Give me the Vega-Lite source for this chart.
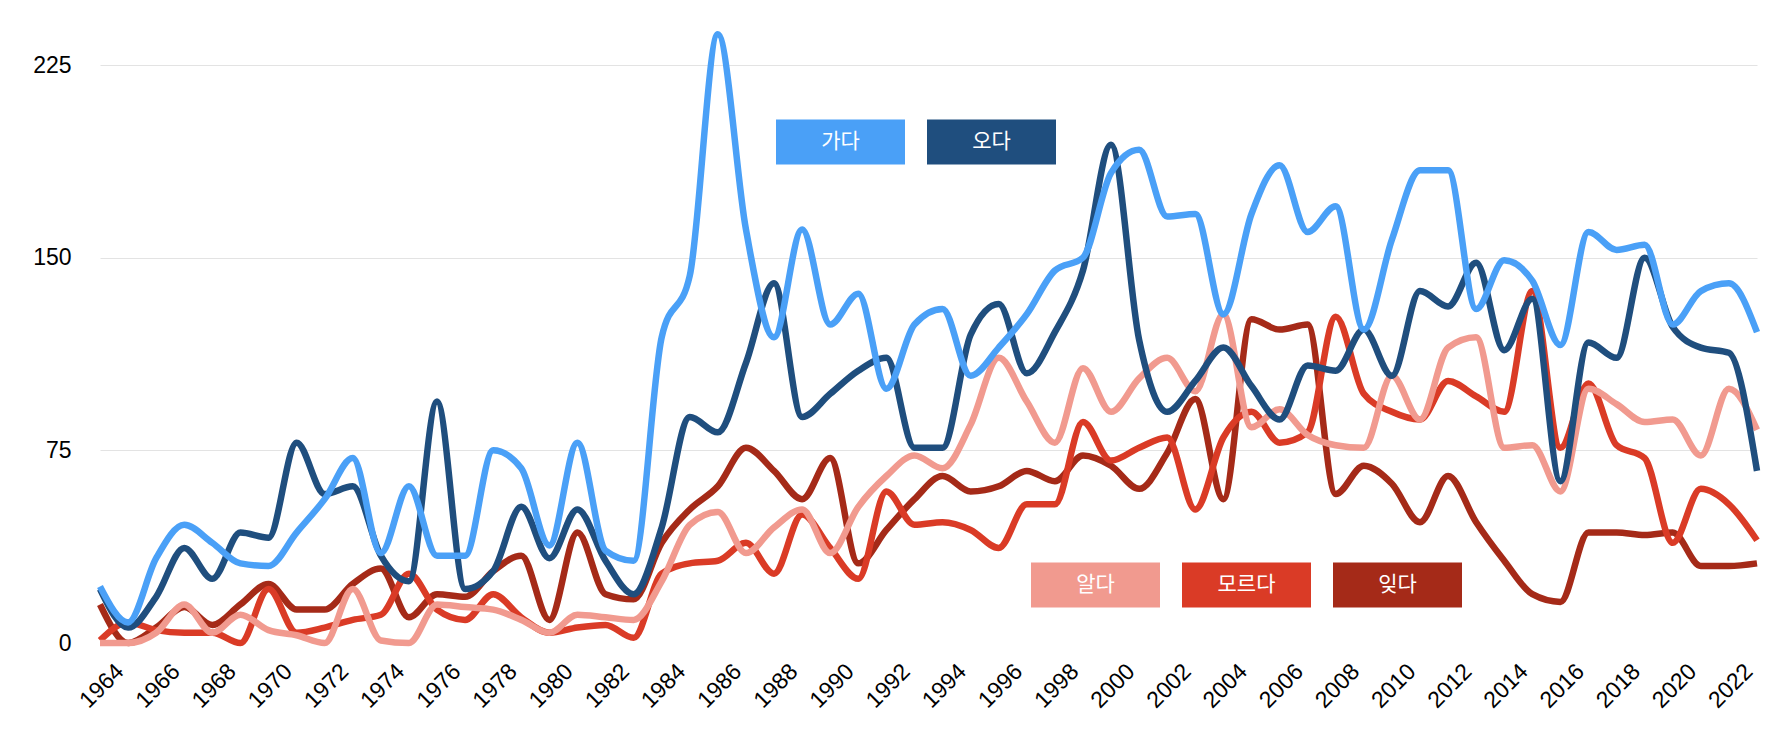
{
  "$schema": "https://vega.github.io/schema/vega-lite/v6.json",
  "width": 1657,
  "height": 578,
  "autosize": {"type": "none"},
  "padding": {"left": 100, "top": 65, "right": 17, "bottom": 91},
  "background": "white",
  "config": {"view": {"stroke": null}, "font": "Liberation Sans"},
  "data": {"values": [
    {"year":1963,"verb":"잊다","count":15},{"year":1964,"verb":"잊다","count":0},{"year":1965,"verb":"잊다","count":6},{"year":1966,"verb":"잊다","count":14},{"year":1967,"verb":"잊다","count":7},{"year":1968,"verb":"잊다","count":15},{"year":1969,"verb":"잊다","count":23},{"year":1970,"verb":"잊다","count":13},{"year":1971,"verb":"잊다","count":13},{"year":1972,"verb":"잊다","count":23},
    {"year":1973,"verb":"잊다","count":29},{"year":1974,"verb":"잊다","count":10},{"year":1975,"verb":"잊다","count":19},{"year":1976,"verb":"잊다","count":18},{"year":1977,"verb":"잊다","count":28},{"year":1978,"verb":"잊다","count":34},{"year":1979,"verb":"잊다","count":9},{"year":1980,"verb":"잊다","count":43},{"year":1981,"verb":"잊다","count":19},{"year":1982,"verb":"잊다","count":17},
    {"year":1983,"verb":"잊다","count":39},{"year":1984,"verb":"잊다","count":52},{"year":1985,"verb":"잊다","count":61},{"year":1986,"verb":"잊다","count":76},{"year":1987,"verb":"잊다","count":67},{"year":1988,"verb":"잊다","count":56},{"year":1989,"verb":"잊다","count":72},{"year":1990,"verb":"잊다","count":31},{"year":1991,"verb":"잊다","count":44},{"year":1992,"verb":"잊다","count":56},
    {"year":1993,"verb":"잊다","count":65},{"year":1994,"verb":"잊다","count":59},{"year":1995,"verb":"잊다","count":61},{"year":1996,"verb":"잊다","count":67},{"year":1997,"verb":"잊다","count":63},{"year":1998,"verb":"잊다","count":73},{"year":1999,"verb":"잊다","count":69},{"year":2000,"verb":"잊다","count":60},{"year":2001,"verb":"잊다","count":74},{"year":2002,"verb":"잊다","count":95},
    {"year":2003,"verb":"잊다","count":56},{"year":2004,"verb":"잊다","count":126},{"year":2005,"verb":"잊다","count":122},{"year":2006,"verb":"잊다","count":124},{"year":2007,"verb":"잊다","count":58},{"year":2008,"verb":"잊다","count":69},{"year":2009,"verb":"잊다","count":62},{"year":2010,"verb":"잊다","count":47},{"year":2011,"verb":"잊다","count":65},{"year":2012,"verb":"잊다","count":47},
    {"year":2013,"verb":"잊다","count":32},{"year":2014,"verb":"잊다","count":19},{"year":2015,"verb":"잊다","count":16},{"year":2016,"verb":"잊다","count":43},{"year":2017,"verb":"잊다","count":43},{"year":2018,"verb":"잊다","count":42},{"year":2019,"verb":"잊다","count":43},{"year":2020,"verb":"잊다","count":30},{"year":2021,"verb":"잊다","count":30},{"year":2022,"verb":"잊다","count":31},

    {"year":1963,"verb":"모르다","count":1},{"year":1964,"verb":"모르다","count":8},{"year":1965,"verb":"모르다","count":5},{"year":1966,"verb":"모르다","count":4},{"year":1967,"verb":"모르다","count":4},{"year":1968,"verb":"모르다","count":0},{"year":1969,"verb":"모르다","count":21},{"year":1970,"verb":"모르다","count":4},{"year":1971,"verb":"모르다","count":6},{"year":1972,"verb":"모르다","count":9},
    {"year":1973,"verb":"모르다","count":11},{"year":1974,"verb":"모르다","count":27},{"year":1975,"verb":"모르다","count":13},{"year":1976,"verb":"모르다","count":9},{"year":1977,"verb":"모르다","count":19},{"year":1978,"verb":"모르다","count":10},{"year":1979,"verb":"모르다","count":4},{"year":1980,"verb":"모르다","count":6},{"year":1981,"verb":"모르다","count":7},{"year":1982,"verb":"모르다","count":2},
    {"year":1983,"verb":"모르다","count":27},{"year":1984,"verb":"모르다","count":31},{"year":1985,"verb":"모르다","count":32},{"year":1986,"verb":"모르다","count":39},{"year":1987,"verb":"모르다","count":27},{"year":1988,"verb":"모르다","count":50},{"year":1989,"verb":"모르다","count":37},{"year":1990,"verb":"모르다","count":25},{"year":1991,"verb":"모르다","count":59},{"year":1992,"verb":"모르다","count":46},
    {"year":1993,"verb":"모르다","count":47},{"year":1994,"verb":"모르다","count":44},{"year":1995,"verb":"모르다","count":37},{"year":1996,"verb":"모르다","count":54},{"year":1997,"verb":"모르다","count":54},{"year":1998,"verb":"모르다","count":86},{"year":1999,"verb":"모르다","count":71},{"year":2000,"verb":"모르다","count":76},{"year":2001,"verb":"모르다","count":80},{"year":2002,"verb":"모르다","count":52},
    {"year":2003,"verb":"모르다","count":80},{"year":2004,"verb":"모르다","count":90},{"year":2005,"verb":"모르다","count":78},{"year":2006,"verb":"모르다","count":82},{"year":2007,"verb":"모르다","count":127},{"year":2008,"verb":"모르다","count":97},{"year":2009,"verb":"모르다","count":90},{"year":2010,"verb":"모르다","count":87},{"year":2011,"verb":"모르다","count":102},{"year":2012,"verb":"모르다","count":96},
    {"year":2013,"verb":"모르다","count":90},{"year":2014,"verb":"모르다","count":137},{"year":2015,"verb":"모르다","count":76},{"year":2016,"verb":"모르다","count":101},{"year":2017,"verb":"모르다","count":77},{"year":2018,"verb":"모르다","count":72},{"year":2019,"verb":"모르다","count":39},{"year":2020,"verb":"모르다","count":60},{"year":2021,"verb":"모르다","count":54},{"year":2022,"verb":"모르다","count":40},

    {"year":1963,"verb":"알다","count":0},{"year":1964,"verb":"알다","count":0},{"year":1965,"verb":"알다","count":4},{"year":1966,"verb":"알다","count":15},{"year":1967,"verb":"알다","count":4},{"year":1968,"verb":"알다","count":11},{"year":1969,"verb":"알다","count":5},{"year":1970,"verb":"알다","count":3},{"year":1971,"verb":"알다","count":0},{"year":1972,"verb":"알다","count":21},
    {"year":1973,"verb":"알다","count":1},{"year":1974,"verb":"알다","count":0},{"year":1975,"verb":"알다","count":15},{"year":1976,"verb":"알다","count":14},{"year":1977,"verb":"알다","count":13},{"year":1978,"verb":"알다","count":9},{"year":1979,"verb":"알다","count":4},{"year":1980,"verb":"알다","count":11},{"year":1981,"verb":"알다","count":10},{"year":1982,"verb":"알다","count":9},
    {"year":1983,"verb":"알다","count":24},{"year":1984,"verb":"알다","count":46},{"year":1985,"verb":"알다","count":51},{"year":1986,"verb":"알다","count":35},{"year":1987,"verb":"알다","count":45},{"year":1988,"verb":"알다","count":52},{"year":1989,"verb":"알다","count":35},{"year":1990,"verb":"알다","count":53},{"year":1991,"verb":"알다","count":65},{"year":1992,"verb":"알다","count":73},
    {"year":1993,"verb":"알다","count":68},{"year":1994,"verb":"알다","count":85},{"year":1995,"verb":"알다","count":111},{"year":1996,"verb":"알다","count":94},{"year":1997,"verb":"알다","count":78},{"year":1998,"verb":"알다","count":107},{"year":1999,"verb":"알다","count":90},{"year":2000,"verb":"알다","count":103},{"year":2001,"verb":"알다","count":111},{"year":2002,"verb":"알다","count":98},
    {"year":2003,"verb":"알다","count":128},{"year":2004,"verb":"알다","count":84},{"year":2005,"verb":"알다","count":91},{"year":2006,"verb":"알다","count":81},{"year":2007,"verb":"알다","count":77},{"year":2008,"verb":"알다","count":76},{"year":2009,"verb":"알다","count":104},{"year":2010,"verb":"알다","count":87},{"year":2011,"verb":"알다","count":115},{"year":2012,"verb":"알다","count":119},
    {"year":2013,"verb":"알다","count":76},{"year":2014,"verb":"알다","count":77},{"year":2015,"verb":"알다","count":59},{"year":2016,"verb":"알다","count":99},{"year":2017,"verb":"알다","count":93},{"year":2018,"verb":"알다","count":86},{"year":2019,"verb":"알다","count":87},{"year":2020,"verb":"알다","count":73},{"year":2021,"verb":"알다","count":99},{"year":2022,"verb":"알다","count":83},

    {"year":1963,"verb":"오다","count":21},{"year":1964,"verb":"오다","count":6},{"year":1965,"verb":"오다","count":18},{"year":1966,"verb":"오다","count":37},{"year":1967,"verb":"오다","count":25},{"year":1968,"verb":"오다","count":43},{"year":1969,"verb":"오다","count":41},{"year":1970,"verb":"오다","count":78},{"year":1971,"verb":"오다","count":58},{"year":1972,"verb":"오다","count":61},
    {"year":1973,"verb":"오다","count":34},{"year":1974,"verb":"오다","count":24},{"year":1975,"verb":"오다","count":94},{"year":1976,"verb":"오다","count":21},{"year":1977,"verb":"오다","count":28},{"year":1978,"verb":"오다","count":53},{"year":1979,"verb":"오다","count":33},{"year":1980,"verb":"오다","count":52},{"year":1981,"verb":"오다","count":32},{"year":1982,"verb":"오다","count":19},
    {"year":1983,"verb":"오다","count":45},{"year":1984,"verb":"오다","count":88},{"year":1985,"verb":"오다","count":82},{"year":1986,"verb":"오다","count":109},{"year":1987,"verb":"오다","count":140},{"year":1988,"verb":"오다","count":88},{"year":1989,"verb":"오다","count":97},{"year":1990,"verb":"오다","count":106},{"year":1991,"verb":"오다","count":111},{"year":1992,"verb":"오다","count":76},
    {"year":1993,"verb":"오다","count":76},{"year":1994,"verb":"오다","count":120},{"year":1995,"verb":"오다","count":132},{"year":1996,"verb":"오다","count":105},{"year":1997,"verb":"오다","count":121},{"year":1998,"verb":"오다","count":145},{"year":1999,"verb":"오다","count":194},{"year":2000,"verb":"오다","count":118},{"year":2001,"verb":"오다","count":90},{"year":2002,"verb":"오다","count":102},
    {"year":2003,"verb":"오다","count":115},{"year":2004,"verb":"오다","count":100},{"year":2005,"verb":"오다","count":87},{"year":2006,"verb":"오다","count":108},{"year":2007,"verb":"오다","count":106},{"year":2008,"verb":"오다","count":122},{"year":2009,"verb":"오다","count":104},{"year":2010,"verb":"오다","count":137},{"year":2011,"verb":"오다","count":131},{"year":2012,"verb":"오다","count":148},
    {"year":2013,"verb":"오다","count":114},{"year":2014,"verb":"오다","count":134},{"year":2015,"verb":"오다","count":63},{"year":2016,"verb":"오다","count":117},{"year":2017,"verb":"오다","count":111},{"year":2018,"verb":"오다","count":150},{"year":2019,"verb":"오다","count":123},{"year":2020,"verb":"오다","count":115},{"year":2021,"verb":"오다","count":113},{"year":2022,"verb":"오다","count":67},

    {"year":1963,"verb":"가다","count":22},{"year":1964,"verb":"가다","count":8},{"year":1965,"verb":"가다","count":33},{"year":1966,"verb":"가다","count":46},{"year":1967,"verb":"가다","count":39},{"year":1968,"verb":"가다","count":31},{"year":1969,"verb":"가다","count":30},{"year":1970,"verb":"가다","count":43},{"year":1971,"verb":"가다","count":56},{"year":1972,"verb":"가다","count":72},
    {"year":1973,"verb":"가다","count":35},{"year":1974,"verb":"가다","count":61},{"year":1975,"verb":"가다","count":34},{"year":1976,"verb":"가다","count":34},{"year":1977,"verb":"가다","count":75},{"year":1978,"verb":"가다","count":68},{"year":1979,"verb":"가다","count":38},{"year":1980,"verb":"가다","count":78},{"year":1981,"verb":"가다","count":36},{"year":1982,"verb":"가다","count":32},
    {"year":1983,"verb":"가다","count":119},{"year":1984,"verb":"가다","count":143},{"year":1985,"verb":"가다","count":237},{"year":1986,"verb":"가다","count":161},{"year":1987,"verb":"가다","count":119},{"year":1988,"verb":"가다","count":161},{"year":1989,"verb":"가다","count":124},{"year":1990,"verb":"가다","count":136},{"year":1991,"verb":"가다","count":99},{"year":1992,"verb":"가다","count":124},
    {"year":1993,"verb":"가다","count":130},{"year":1994,"verb":"가다","count":104},{"year":1995,"verb":"가다","count":115},{"year":1996,"verb":"가다","count":128},{"year":1997,"verb":"가다","count":145},{"year":1998,"verb":"가다","count":150},{"year":1999,"verb":"가다","count":183},{"year":2000,"verb":"가다","count":192},{"year":2001,"verb":"가다","count":166},{"year":2002,"verb":"가다","count":167},
    {"year":2003,"verb":"가다","count":128},{"year":2004,"verb":"가다","count":167},{"year":2005,"verb":"가다","count":186},{"year":2006,"verb":"가다","count":160},{"year":2007,"verb":"가다","count":170},{"year":2008,"verb":"가다","count":122},{"year":2009,"verb":"가다","count":157},{"year":2010,"verb":"가다","count":184},{"year":2011,"verb":"가다","count":184},{"year":2012,"verb":"가다","count":130},
    {"year":2013,"verb":"가다","count":149},{"year":2014,"verb":"가다","count":141},{"year":2015,"verb":"가다","count":116},{"year":2016,"verb":"가다","count":160},{"year":2017,"verb":"가다","count":153},{"year":2018,"verb":"가다","count":155},{"year":2019,"verb":"가다","count":124},{"year":2020,"verb":"가다","count":137},{"year":2021,"verb":"가다","count":140},{"year":2022,"verb":"가다","count":121}
  ]},
  "encoding": {
    "x": {
      "field": "year", "type": "quantitative",
      "scale": {"domain": [1963, 2022], "nice": false, "zero": false},
      "axis": {
        "title": null, "values": [1964,1966,1968,1970,1972,1974,1976,1978,1980,1982,1984,1986,1988,1990,1992,1994,1996,1998,2000,2002,2004,2006,2008,2010,2012,2014,2016,2018,2020,2022],
        "format": "d", "labelAngle": -45, "labelAlign": "right", "labelBaseline": "bottom",
        "labelFontSize": 23, "labelColor": "#000000", "labelPadding": 33,
        "grid": false, "domain": false, "ticks": false, "labelOverlap": false
      }
    },
    "y": {
      "field": "count", "type": "quantitative",
      "scale": {"domain": [0, 225], "nice": false},
      "axis": {
        "title": null, "values": [0, 75, 150, 225],
        "labelFontSize": 23, "labelColor": "#000000", "labelPadding": 29,
        "domain": false, "ticks": false,
        "gridColor": "#e3e3e3", "gridWidth": 1,
        "gridOpacity": {"condition": {"test": "datum.value === 0", "value": 0}, "value": 1}
      }
    }
  },
  "layer": [
    {
      "transform": [{"filter": {"field": "verb", "oneOf": ["잊다", "모르다", "알다"]}}],
      "mark": {"type": "line", "interpolate": "monotone", "strokeWidth": 6.5},
      "encoding": {
        "color": {
          "field": "verb", "type": "nominal",
          "scale": {"domain": ["알다", "모르다", "잊다"], "range": ["#f19a8f", "#da3b26", "#a52a18"]},
          "legend": {
            "title": null, "orient": "none", "legendX": 931, "legendY": 455, "direction": "horizontal",
            "symbolType": "M-1,-0.349L1,-0.349L1,0.349L-1,0.349Z", "symbolSize": 16641,
            "symbolStrokeWidth": 0, "symbolOpacity": 1,
            "labelAlign": "center", "labelOffset": -64.5, "labelColor": "#ffffff",
            "labelFont": "Noto Sans CJK KR", "labelFontSize": 21, "labelLimit": 0,
            "columnPadding": 22, "padding": 0, "offset": 0,
            "encode": {"symbols": {"update": {"fill": {"scale": "color", "field": "value"}, "stroke": {"value": "transparent"}, "strokeWidth": {"value": 0}}}}
          }
        }
      }
    },
    {
      "transform": [{"filter": {"field": "verb", "oneOf": ["오다", "가다"]}}],
      "mark": {"type": "line", "interpolate": "monotone", "strokeWidth": 6.5},
      "encoding": {
        "stroke": {
          "field": "verb", "type": "nominal",
          "scale": {"domain": ["가다", "오다"], "range": ["#4aa0f7", "#1f4e7e"]},
          "legend": {
            "title": null, "orient": "none", "legendX": 676, "legendY": 12, "direction": "horizontal",
            "symbolType": "M-1,-0.349L1,-0.349L1,0.349L-1,0.349Z", "symbolSize": 16641,
            "symbolStrokeWidth": 0, "symbolOpacity": 1,
            "labelAlign": "center", "labelOffset": -64.5, "labelColor": "#ffffff",
            "labelFont": "Noto Sans CJK KR", "labelFontSize": 21, "labelLimit": 0,
            "columnPadding": 22, "padding": 0, "offset": 0,
            "encode": {"symbols": {"update": {"fill": {"scale": "stroke", "field": "value"}, "stroke": {"value": "transparent"}, "strokeWidth": {"value": 0}}}}
          }
        }
      }
    }
  ]
}
